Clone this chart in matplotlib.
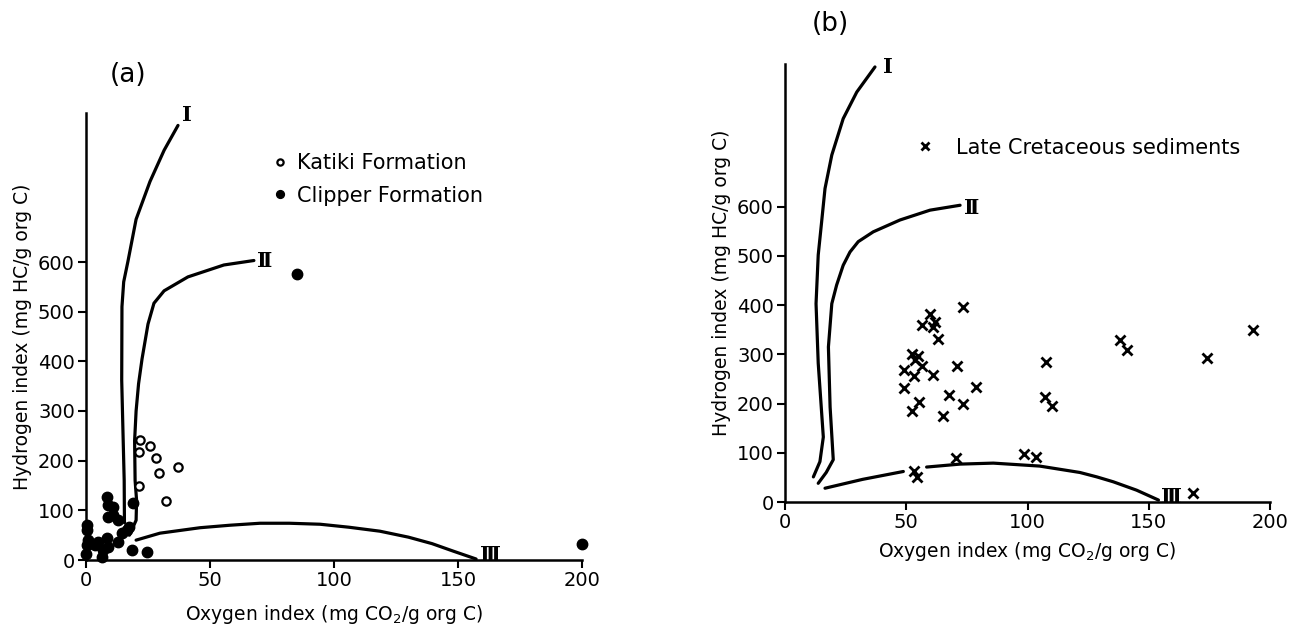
import matplotlib.pyplot as plt

# ---- panel (a): Katiki and Clipper formations ----
katiki_oi = [21.8, 25.9, 21.3, 28.1, 36.9, 29.4, 21.2, 32.1]
katiki_hi = [241, 230, 218, 206, 188, 176, 148, 119]

clipper_oi = [0.3, 0.3, 0.9, 0.3, 0.0, 3.6, 5.0, 8.3, 7.0, 6.3, 9.0, 13.0, 8.3,
              9.0, 11.0, 9.0, 11.0, 13.0, 14.4, 16.4, 17.5, 19.1, 18.5, 24.5, 85, 200]
clipper_hi = [70, 60, 40, 30, 13, 30, 37, 44, 20, 7, 27, 37, 127,
              111, 107, 87, 90, 80, 54, 60, 66, 114, 20, 17, 576, 32]

# kerogen type evolution paths
a_type1_oi = [15.5, 15.4, 14.9, 14.4, 14.5, 15.2, 16.9, 20.2, 25.8, 31.5, 37.1]
a_type1_hi = [75, 160, 260, 362, 510, 560, 601, 686, 762, 825, 875]
a_type2_oi = [17.5, 20.2, 20.4, 19.8, 19.6, 20.2, 21.2, 22.6, 25.0, 27.4, 31.5,
              41.1, 55.6, 67.7]
a_type2_hi = [50, 80, 120, 160, 240, 300, 355, 405, 475, 517, 542,
              570, 594, 603]
a_type3_oi = [20.2, 29.8, 46.0, 58.0, 70.2, 82.0, 94.4, 106.0, 118.5, 130.0,
              139.5, 148.0, 157.3]
a_type3_hi = [40, 54, 65, 70, 74, 74, 72, 66, 58, 46, 33, 18, 2]

# ---- panel (b): Late Cretaceous sediments ----
late_oi = [59.8, 56.4, 61.9, 60.9, 63.2, 73.5, 52.2, 55.0, 53.6, 56.4, 49.1, 53.2,
           61.2, 71.1, 49.2, 67.8, 78.6, 55.4, 73.3, 52.2, 65.0, 70.4, 53.2, 54.3,
           98.7, 103.5, 107.6, 107.2, 110.0, 138.1, 140.9, 173.9, 192.9, 168.4]
late_hi = [383, 360, 366, 356, 332, 396, 301, 297, 289, 276, 269, 256,
           258, 277, 231, 217, 233, 204, 199, 185, 175, 89, 64, 50,
           97, 91, 285, 214, 195, 330, 309, 292, 349, 18]

b_type1_oi = [11.7, 14.4, 15.8, 13.7, 12.8, 13.7, 15.1, 16.5, 19.3, 24.0, 29.6, 37.1]
b_type1_hi = [51, 82, 132, 282, 403, 502, 569, 637, 705, 779, 833, 884]
b_type2_oi = [13.7, 17.0, 19.9, 18.6, 17.9, 19.3, 21.3, 24.0, 26.8, 30.2, 36.4,
              47.4, 59.8, 72.2]
b_type2_hi = [38, 60, 86, 193, 315, 403, 441, 481, 508, 529, 549,
              573, 593, 603]
b_type3a_oi = [16.5, 32.0, 48.8]
b_type3a_hi = [28, 46, 62]
b_type3b_oi = [58.4, 72.2, 85.9, 105.0, 121.6, 128.6, 135.4, 145.0, 154.0]
b_type3b_hi = [71, 77, 79, 73, 60, 51, 41, 24, 4]

x_ticks = [0, 50, 100, 150, 200]
y_ticks = [0, 100, 200, 300, 400, 500, 600]

W, H = 1304, 631
LW = 2.3          # curve width
FS = 13.5         # tick / axis label size
roman = dict(family=['DejaVu Serif', 'DejaVu Sans'], fontsize=15,
             fontweight='bold', ha='center', va='center')


def px_axes(fig, x0, y0, x1, y1):
    """axes from pixel corners (x0,y0 = data origin, x1,y1 = top right)"""
    return fig.add_axes([x0 / W, 1 - y0 / H, (x1 - x0) / W, (y0 - y1) / H])


def style_axes(ax, ytop, xpad, ypad):
    ax.set_xlim(0, 200)
    ax.set_ylim(0, ytop)
    for s in ['top', 'right']:
        ax.spines[s].set_visible(False)
    for s in ['left', 'bottom']:
        ax.spines[s].set_linewidth(1.8)
    ax.set_xticks(x_ticks)
    ax.set_yticks(y_ticks)
    ax.tick_params(direction='out', length=6, width=1.5, labelsize=FS + 0.5, pad=2)
    ax.set_xlabel("Oxygen index (mg CO$_2$/g org C)", fontsize=FS, labelpad=xpad)
    ax.set_ylabel("Hydrogen index (mg HC/g org C)", fontsize=FS, labelpad=ypad)


fig = plt.figure(figsize=(W / 100, H / 100), dpi=100)

# panel (a)
ax = px_axes(fig, 86, 560, 582, 113)
style_axes(ax, 900, 9, 4)
ax.plot(a_type1_oi, a_type1_hi, color='k', lw=LW, solid_capstyle='round')
ax.plot(a_type2_oi, a_type2_hi, color='k', lw=LW, solid_capstyle='round')
ax.plot(a_type3_oi, a_type3_hi, color='k', lw=LW, solid_capstyle='round')
ax.plot(katiki_oi, katiki_hi, 'o', ms=6, mfc='white', mec='k', mew=1.6,
        ls='none', label='Katiki Formation', zorder=4, clip_on=False)
ax.plot(clipper_oi, clipper_hi, 'o', ms=7.5, color='k', ls='none',
        label='Clipper Formation', zorder=4, clip_on=False)
ax.text(40.5, 895, "Ⅰ", **roman)
ax.text(72, 602, "Ⅱ", **roman)
ax.text(163, 11, "Ⅲ", **roman)
ax.legend(loc='upper left', bbox_to_anchor=(0.378, 0.91), frameon=False,
          fontsize=15, handlelength=0.6, handletextpad=0.55, labelspacing=0.6,
          borderpad=0, borderaxespad=0, markerscale=0.75)
fig.text(128 / W, 1 - 75 / H, "(a)", fontsize=19, ha='center', va='center')

# panel (b)
bx = px_axes(fig, 785, 502, 1270, 64)
style_axes(bx, 890, 6, 4)
bx.plot(b_type1_oi, b_type1_hi, color='k', lw=LW, solid_capstyle='round')
bx.plot(b_type2_oi, b_type2_hi, color='k', lw=LW, solid_capstyle='round')
bx.plot(b_type3a_oi, b_type3a_hi, color='k', lw=LW, solid_capstyle='round')
bx.plot(b_type3b_oi, b_type3b_hi, color='k', lw=LW, solid_capstyle='round')
bx.plot(late_oi, late_hi, 'x', ms=7, mew=2, color='k', ls='none',
        label='Late Cretaceous sediments', zorder=4)
bx.text(42.6, 884, "Ⅰ", **roman)
bx.text(77, 597, "Ⅱ", **roman)
bx.text(159.5, 11, "Ⅲ", **roman)
bx.legend(loc='upper left', bbox_to_anchor=(0.275, 0.832), frameon=False,
          fontsize=15, handlelength=0.6, handletextpad=1.2,
          borderpad=0, borderaxespad=0, markerscale=0.75)
fig.text(830 / W, 1 - 24 / H, "(b)", fontsize=19, ha='center', va='center')

fig.savefig("out.png", dpi=100)
